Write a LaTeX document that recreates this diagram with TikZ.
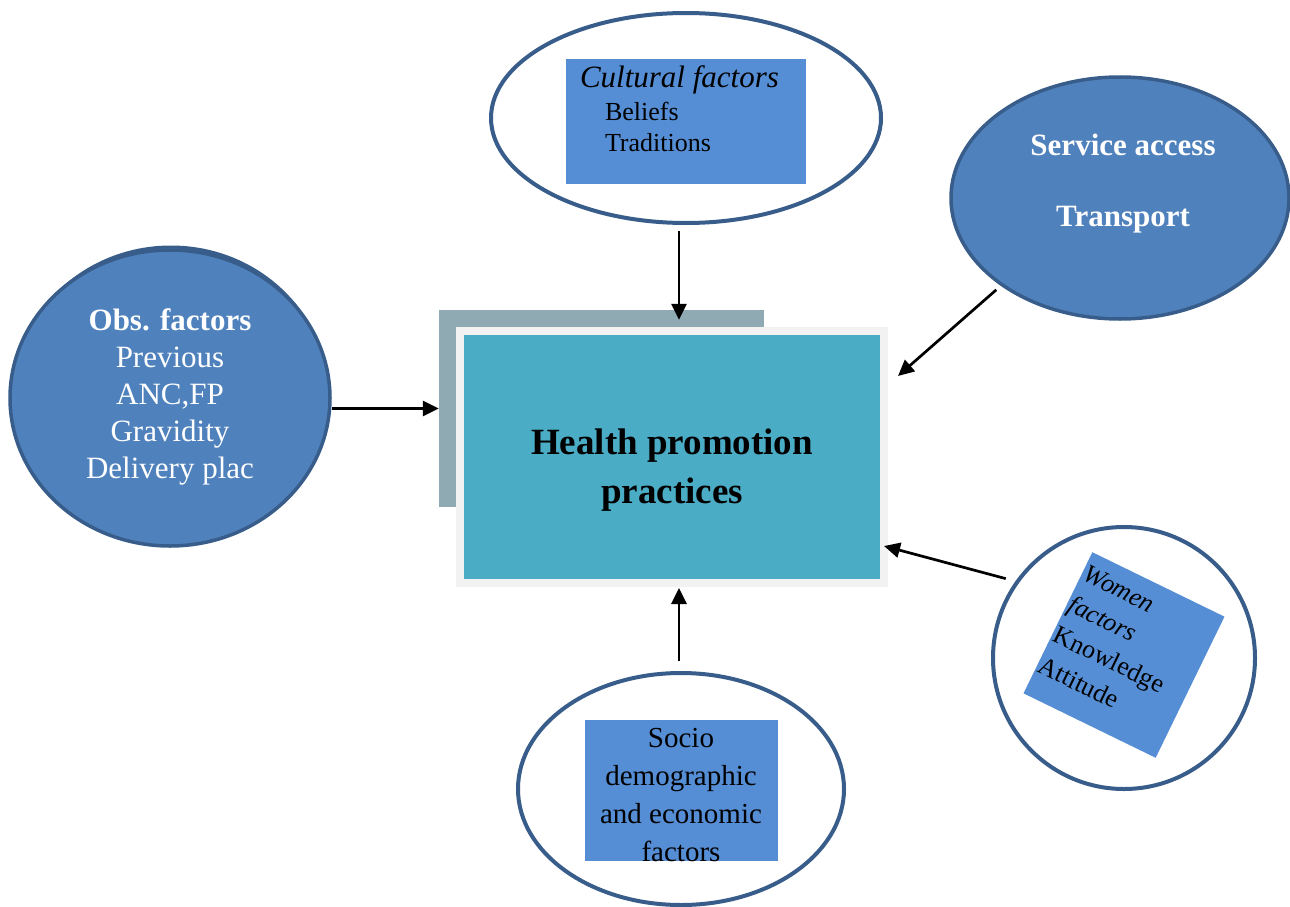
\documentclass[tikz,border=0pt]{standalone}
\usepackage{fontspec}
\setmainfont{Liberation Serif}
\usetikzlibrary{shapes.geometric,arrows.meta}
\definecolor{rim}{HTML}{385D8A}
\definecolor{ovalblue}{HTML}{4F81BD}
\definecolor{boxblue}{HTML}{558ED5}
\definecolor{teal}{HTML}{4BACC6}
\definecolor{slate}{HTML}{8FAAB3}
\definecolor{frame}{HTML}{F2F2F2}
% stacked lines with a fixed baseline distance; the stack's baseline is its first line
\newcommand\cstack[2]{\vtop{\baselineskip=#1\relax\halign{\hfil##\hfil\cr#2\crcr}}}
\newcommand\lstack[2]{\vtop{\baselineskip=#1\relax\halign{##\hfil\cr#2\crcr}}}
\begin{document}
\begin{tikzpicture}[x=1pt,y=-1pt,
  oval/.style={ellipse, draw=rim, line width=4pt, inner sep=0pt},
  plainoval/.style={oval, fill=white},
  blueoval/.style={oval, fill=ovalblue, line width=3.5pt},
  card/.style={rectangle, fill=boxblue, inner sep=0pt},
  txt/.style={inner sep=0pt, outer sep=0pt},
  arr/.style={line width=2.7pt, -{Triangle[length=16pt 0 0,width=15pt 0 0]}}]
\useasboundingbox (0,0) rectangle (1290,907);

% central block with its offset backing plate
\node[rectangle, fill=slate, inner sep=0pt, minimum width=325pt, minimum height=197pt] (back) at (601.5,408.5) {};
\node[rectangle, fill=teal, draw=frame, line width=8pt, inner sep=0pt, minimum width=424pt, minimum height=252pt] (hp) at (672,457) {};
\node[txt, anchor=base, font=\fontsize{37pt}{44pt}\selectfont\bfseries] (hptext) at (672,454) {\cstack{49pt}{Health promotion\cr practices}};

% cultural factors
\node[plainoval, minimum width=390pt, minimum height=210pt] (cult) at (686,118) {};
\node[card, minimum width=240pt, minimum height=125pt] (cultbox) at (686,121.5) {};
\node[txt, anchor=base west, font=\fontsize{31pt}{36pt}\selectfont\itshape] (culthead) at (580,88) {Cultural factors};
\node[txt, anchor=base west, font=\fontsize{26pt}{30pt}\selectfont] (cultitems) at (605,120) {\lstack{32pt}{Beliefs\cr Traditions}};

% service access
\node[blueoval, minimum width=338pt, minimum height=242pt] (serv) at (1120,198) {};
\node[txt, anchor=base, text=white, font=\fontsize{31pt}{36pt}\selectfont\bfseries] (servtext) at (1123,155) {\cstack{71pt}{Service access\cr Transport}};

% obstetric factors
\draw[rim, fill=ovalblue, line width=3pt] (171,395) ellipse [x radius=156pt, y radius=148pt];
\node[blueoval, minimum width=320pt, minimum height=296pt] (obs) at (170,398) {};
\node[txt, anchor=base, text=white, font=\fontsize{31pt}{36pt}\selectfont] (obstext) at (170,330) {\cstack{37pt}{\textbf{Obs. factors}\cr Previous\cr ANC,FP\cr Gravidity\cr Delivery plac}};

% women factors
\node[plainoval, minimum width=262pt, minimum height=262pt] (wom) at (1124,658) {};
\begin{scope}[shift={(1124,655)}, rotate=-26, transform shape]
  \node[card, minimum width=147pt, minimum height=157pt] (wombox) at (0,0) {};
  \node[txt, anchor=base west, font=\fontsize{26pt}{30pt}\selectfont] (womtext) at (-71,-49) {\lstack{34pt}{\textit{Women}\cr \textit{factors}\cr Knowledge\cr Attitude}};
\end{scope}

% socio-demographic factors
\node[plainoval, minimum width=326pt, minimum height=232pt] (soc) at (681,789) {};
\node[card, minimum width=193pt, minimum height=141pt] (socbox) at (681.5,790.5) {};
\begin{scope}
  \clip (socbox.north west) rectangle (socbox.south east);
  \node[txt, anchor=base, font=\fontsize{29pt}{34pt}\selectfont] (soctext) at (681,747) {\cstack{38.3pt}{Socio\cr demographic\cr and economic\cr factors}};
\end{scope}

% influences on the central block
\draw[arr] ([shift={(-7,6)}]cult.south) -- ([shift={(77.5,10)}]back.north);
\draw[arr] ([shift={(-3,5)}]serv.south west) -- ([shift={(10,49)}]hp.north east);
\draw[arr] (obs.east |- back.west) -- (back.west);
\draw[arr] ([shift={(-8,-5)}]wom.146) -- ([shift={(-4,-41)}]hp.south east);
\draw[arr] ([shift={(-2,-10)}]soc.north) -- ([shift={(7,1)}]hp.south);
\end{tikzpicture}
\end{document}
